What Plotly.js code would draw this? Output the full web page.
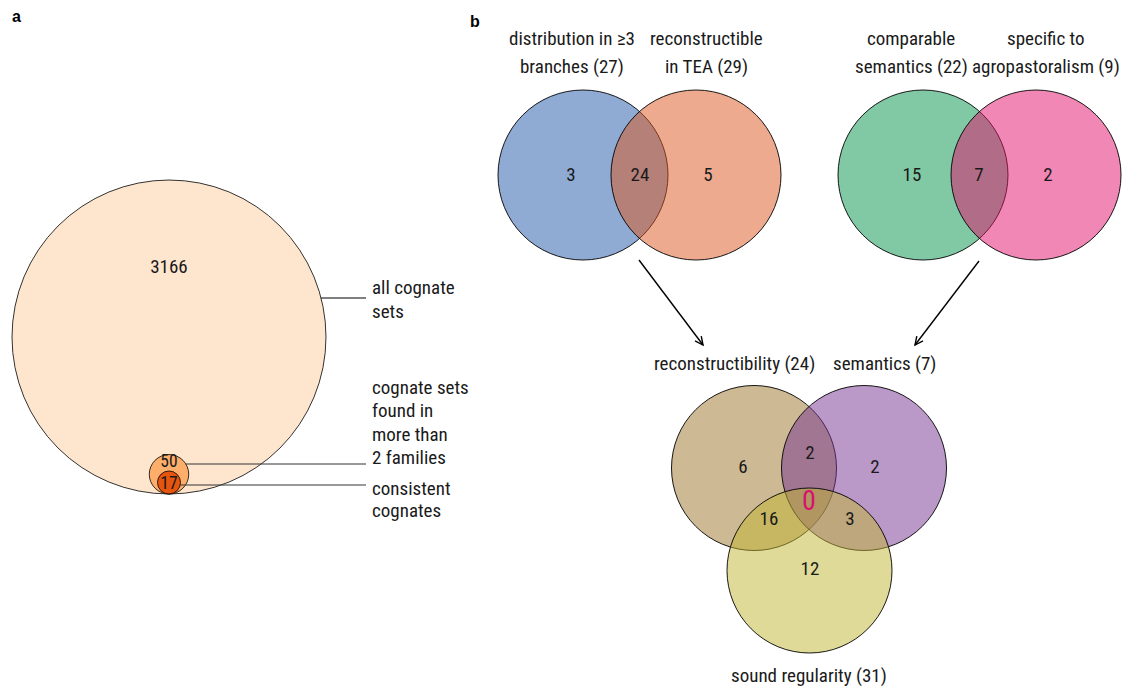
<!DOCTYPE html>
<html><head><meta charset="utf-8">
<script src="https://cdn.plot.ly/plotly-3.0.1.min.js"></script>
<style>html,body{margin:0;padding:0;background:#fff}</style>
</head><body><div id="chart" style="width:1128px;height:688px"></div>
<script>
// ---------------- data ----------------
const panelTags = ["a", "b"];
const panelACounts = [3166, 50, 17];
const panelALabels = [["all cognate", "sets"], ["cognate sets", "found in", "more than", "2 families"], ["consistent", "cognates"]];
const topLeftSets = [["distribution in ≥3", "branches (27)"], ["reconstructible", "in TEA (29)"]];
const topLeftCounts = [3, 24, 5];          // A only, A∩B, B only
const topRightSets = [["comparable", "semantics (22)"], ["specific to", "agropastoralism (9)"]];
const topRightCounts = [15, 7, 2];
const bottomSets = ["reconstructibility (24)", "semantics (7)", "sound regularity (31)"];
const bottomCounts = [6, 2, 2, 16, 0, 3, 12]; // R, R∩S, S, R∩SR, R∩S∩SR, S∩SR, SR

// ---------------- geometry / styles ----------------
const FONT = "Roboto Condensed, Liberation Sans Narrow, DejaVu Sans Condensed, Roboto, sans-serif";
const TXT = "#1a1a1a";
const FS = 19;
const G = {
  a: {cx: 169, bottom: 494, k: 2.79, countY: [268, 462.5, 484.5], countSize: [19, 17.5, 17.5],
      fills: ["#FEE6CE", "#FDAE6B", "#E6550D"],
      labelX: 370, labelY: [[287, 311], [387, 410, 434, 457], [488, 510]],
      leaderY: [298, 464, 485], leaderEnd: 366},
  tl: {c: [[583, 175], [696, 175]], r: 85, fills: ["rgba(31,87,167,0.5)", "rgba(219,86,30,0.5)"],
       titleX: [572, 706], titleY: [38, 66], num: [[571, 176], [640, 176], [708, 176]]},
  tr: {c: [[923, 175], [1036, 175]], r: 85, fills: ["rgba(1,147,73,0.5)", "rgba(225,15,105,0.5)"],
       titleX: [911, 1046], titleY: [38, 66], num: [[912, 176], [979, 176], [1048, 176]]},
  bot: {c: [[754, 468], [864, 468], [809.5, 570.5]], r: 82.5,
        fills: ["rgba(155,115,41,0.5)", "rgba(117,51,145,0.5)", "rgba(193,181,49,0.5)"],
        title: [[734, 363], [884, 363], [809, 675]],
        num: [[743, 468], [810, 454], [875, 468], [769, 520], [809, 503], [850, 520], [810, 570]]},
  arrows: [[[639, 260], [703, 345]], [[979, 261], [915, 345]]],
  tags: [[16, 16], [475, 21]]
};

const shapes = [];
const annotations = [];
const numX = [], numY = [], numT = [], numSize = [], numColor = [];

function circle(cx, cy, r, fill, lw) {
  shapes.push({type: "circle", xref: "x", yref: "y", x0: cx - r, x1: cx + r, y0: cy - r, y1: cy + r,
    fillcolor: fill, line: {color: "#000", width: lw || 0.9}, layer: "below"});
}
function label(x, y, text, size, opts) {
  annotations.push(Object.assign({x: x, y: y, xref: "x", yref: "y", text: text, showarrow: false,
    xanchor: "center", yanchor: "middle", font: {family: FONT, size: size || FS, color: TXT}}, opts || {}));
}
function num(x, y, t, size, color) { numX.push(x); numY.push(y); numT.push(String(t)); numSize.push(size || FS); numColor.push(color || TXT); }
function line(x0, y0, x1, y1, color, w) {
  shapes.push({type: "line", xref: "x", yref: "y", x0: x0, y0: y0, x1: x1, y1: y1, line: {color: color || "#000", width: w || 1}, layer: "below"});
}

// panel a : nested circles, area proportional to counts, bottoms aligned
const A = G.a;
const radii = panelACounts.map(n => A.k * Math.sqrt(n));
radii.forEach((r, i) => circle(A.cx, A.bottom - r, r, A.fills[i], 0.8));
panelACounts.forEach((n, i) => num(A.cx, A.countY[i], n, A.countSize[i]));
A.leaderY.forEach((y, i) => {
  const r = radii[i], cy = A.bottom - r, dy = y - cy;
  const x0 = A.cx + Math.sqrt(Math.max(r * r - dy * dy, 0));
  line(x0, y, A.leaderEnd, y, i === 0 ? "#000" : "#333", 1);
});
panelALabels.forEach((lines, i) => lines.forEach((t, j) =>
  label(A.labelX, A.labelY[i][j], t, FS, {xanchor: "left"})));

// two-set venns
function venn2(V, sets, counts) {
  V.c.forEach((c, i) => circle(c[0], c[1], V.r, V.fills[i]));
  counts.forEach((n, i) => num(V.num[i][0], V.num[i][1], n));
  sets.forEach((lines, i) => lines.forEach((t, j) => label(V.titleX[i], V.titleY[j], t, FS)));
}
venn2(G.tl, topLeftSets, topLeftCounts);
venn2(G.tr, topRightSets, topRightCounts);

// three-set venn
const B = G.bot;
B.c.forEach((c, i) => circle(c[0], c[1], B.r, B.fills[i]));
bottomCounts.forEach((n, i) => {
  if (n === 0) num(B.num[i][0], B.num[i][1], n, 28, "#D6136E");
  else num(B.num[i][0], B.num[i][1], n);
});
bottomSets.forEach((t, i) => label(B.title[i][0], B.title[i][1], t, FS));

// arrows (shaft + open V head)
G.arrows.forEach(a => {
  const [p, q] = a;
  line(p[0], p[1], q[0], q[1], "#000", 1.4);
  const ang = Math.atan2(q[1] - p[1], q[0] - p[0]), L = 9, s = 0.45;
  const h1 = [q[0] - L * Math.cos(ang - s), q[1] - L * Math.sin(ang - s)];
  const h2 = [q[0] - L * Math.cos(ang + s), q[1] - L * Math.sin(ang + s)];
  shapes.push({type: "path", xref: "x", yref: "y",
    path: `M${h1[0]},${h1[1]} L${q[0]},${q[1]} L${h2[0]},${h2[1]}`,
    line: {color: "#000", width: 1.4}, layer: "below"});
});

// panel tags
panelTags.forEach((t, i) => label(G.tags[i][0], G.tags[i][1], t, 16,
  {font: {family: "Liberation Sans, Arial, sans-serif", size: 16, color: "#000", weight: 700}}));

const trace = {type: "scatter", mode: "text", x: numX, y: numY, text: numT,
  textposition: "middle center", hoverinfo: "skip", cliponaxis: false,
  textfont: {family: FONT, size: numSize, color: numColor}};

const layout = {
  width: 1128, height: 688, margin: {l: 0, r: 0, t: 0, b: 0},
  paper_bgcolor: "#fff", plot_bgcolor: "rgba(0,0,0,0)", showlegend: false,
  xaxis: {range: [0, 1128], visible: false, fixedrange: true},
  yaxis: {range: [688, 0], visible: false, fixedrange: true},
  shapes: shapes, annotations: annotations
};
Plotly.newPlot("chart", [trace], layout, {staticPlot: true});
</script>
</body></html>
